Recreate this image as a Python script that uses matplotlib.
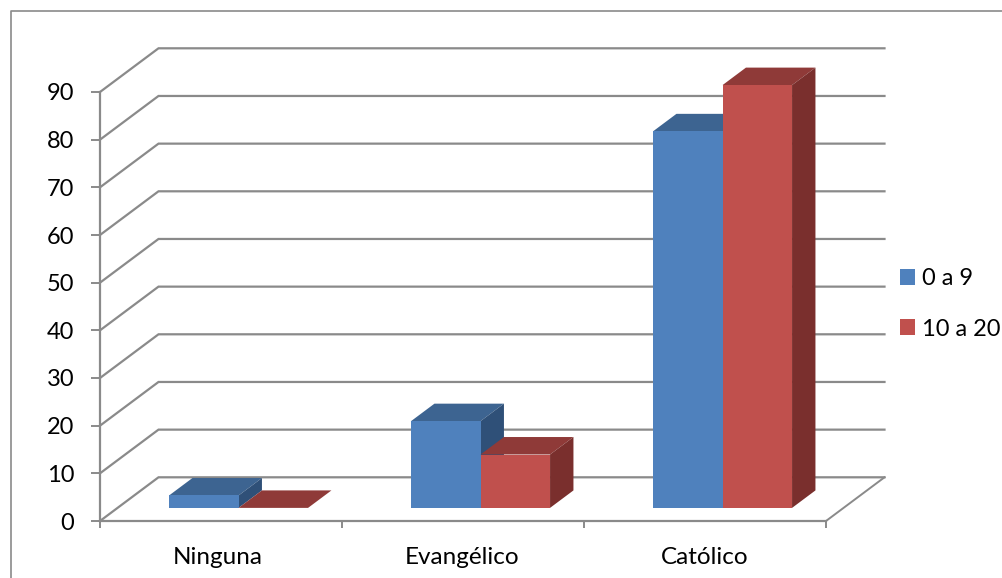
import matplotlib
matplotlib.use("Agg")
import matplotlib.pyplot as plt
from matplotlib.lines import Line2D
from matplotlib.patches import Patch, Polygon

categories = ["Ninguna", "Evangélico", "Católico"]
series_names = ["0 a 9", "10 a 20"]
values_young = [2.6, 18.2, 79.0]
values_old = [0.0, 11.2, 88.7]
y_ticks = list(range(0, 100, 10))

W, H = 1003, 578
GRID = "#8a8a8a"
FACE = ["#4f81bd", "#c0504d"]
TOP = ["#3d6491", "#8f3a38"]
SIDE = ["#2f5078", "#7a2f2d"]

plt.rcParams["font.family"] = ["Lato", "DejaVu Sans"]

fig = plt.figure(figsize=(W / 100, H / 100), dpi=100, facecolor="white")

# Front plane of the pseudo-3D box, placed in pixel terms
left, right, y0_px, y90_px = 100, 826, 521, 92
ax = fig.add_axes([left / W, 1 - y0_px / H, (right - left) / W, (y0_px - y90_px) / H])
ax.set_xlim(0, 3)
ax.set_ylim(0, 90)
ax.patch.set_visible(False)

# Depth of the box, in data units
depth_x = 58.5 / ((right - left) / 3)
depth_y = 43.7 / ((y0_px - y90_px) / 90)

for sp in ("top", "right"):
    ax.spines[sp].set_visible(False)
for sp in ("left", "bottom"):
    ax.spines[sp].set_color(GRID)
    ax.spines[sp].set_linewidth(1.6)

ax.set_yticks(y_ticks)
ax.tick_params(axis="y", length=6.5, width=1.4, color=GRID, labelsize=17, pad=12, labelcolor="black")
ax.set_xticks([0, 1, 2, 3])
ax.set_xticklabels([])
ax.tick_params(axis="x", which="major", length=5, width=1.4, color=GRID)
ax.set_xticks([0.486, 1.498, 2.497], minor=True)
ax.set_xticklabels(categories, minor=True, fontsize=17.5)
ax.tick_params(axis="x", which="minor", length=0, pad=19, labelcolor="black")

# Back wall gridlines and side wall diagonals
for t in y_ticks:
    ax.plot([0, depth_x, 3 + depth_x], [t, t + depth_y, t + depth_y],
            color=GRID, lw=1.6, clip_on=False, zorder=1, solid_joinstyle="miter")
ax.plot([3, 3 + depth_x], [0, depth_y], color=GRID, lw=1.4, clip_on=False, zorder=1)

# Bars: front face via ax.bar, top and side as parallelograms
bar_w = 69.5 / ((right - left) / 3)
d0, d1 = 0.30, 0.70
ox0, oy0 = d0 * depth_x, d0 * depth_y
dx, dy = (d1 - d0) * depth_x, (d1 - d0) * depth_y

for c in range(len(categories)):
    centre = c + 0.5 + ox0
    for s, vals in enumerate((values_young, values_old)):
        v = vals[c]
        x0 = centre + (s - 1) * bar_w
        x1 = x0 + bar_w
        top = oy0 + v
        z = 3 + c + s * 0.5
        ax.add_patch(Polygon([(x0, top), (x1, top), (x1 + dx, top + dy), (x0 + dx, top + dy)],
                             closed=True, fc=TOP[s], ec="none", clip_on=False, zorder=z))
        if v > 0:
            ax.add_patch(Polygon([(x1, oy0), (x1 + dx, oy0 + dy), (x1 + dx, top + dy), (x1, top)],
                                 closed=True, fc=SIDE[s], ec="none", clip_on=False, zorder=z))
            ax.bar(x0, v, width=bar_w, bottom=oy0, align="edge", color=FACE[s],
                   clip_on=False, zorder=z + 0.1)

handles = [Patch(fc=FACE[i], ec="none", label=series_names[i]) for i in range(2)]
ax.legend(handles=handles, loc="upper left", bbox_to_anchor=(900 / W, 1 - 268 / H),
          bbox_transform=fig.transFigure, frameon=False, fontsize=17,
          handlelength=0.64, handleheight=0.64, handletextpad=0.3,
          labelspacing=1.25, borderpad=0, borderaxespad=0)

# Outer chart frame, running off the top right and bottom left of the canvas
fig.add_artist(Line2D([10.5 / W, 10.5 / W, 1], [0, 1 - 10.7 / H, 1 - 10.7 / H],
                      transform=fig.transFigure, color=GRID, lw=1.2))

fig.savefig("out.png", dpi=100, facecolor="white")
